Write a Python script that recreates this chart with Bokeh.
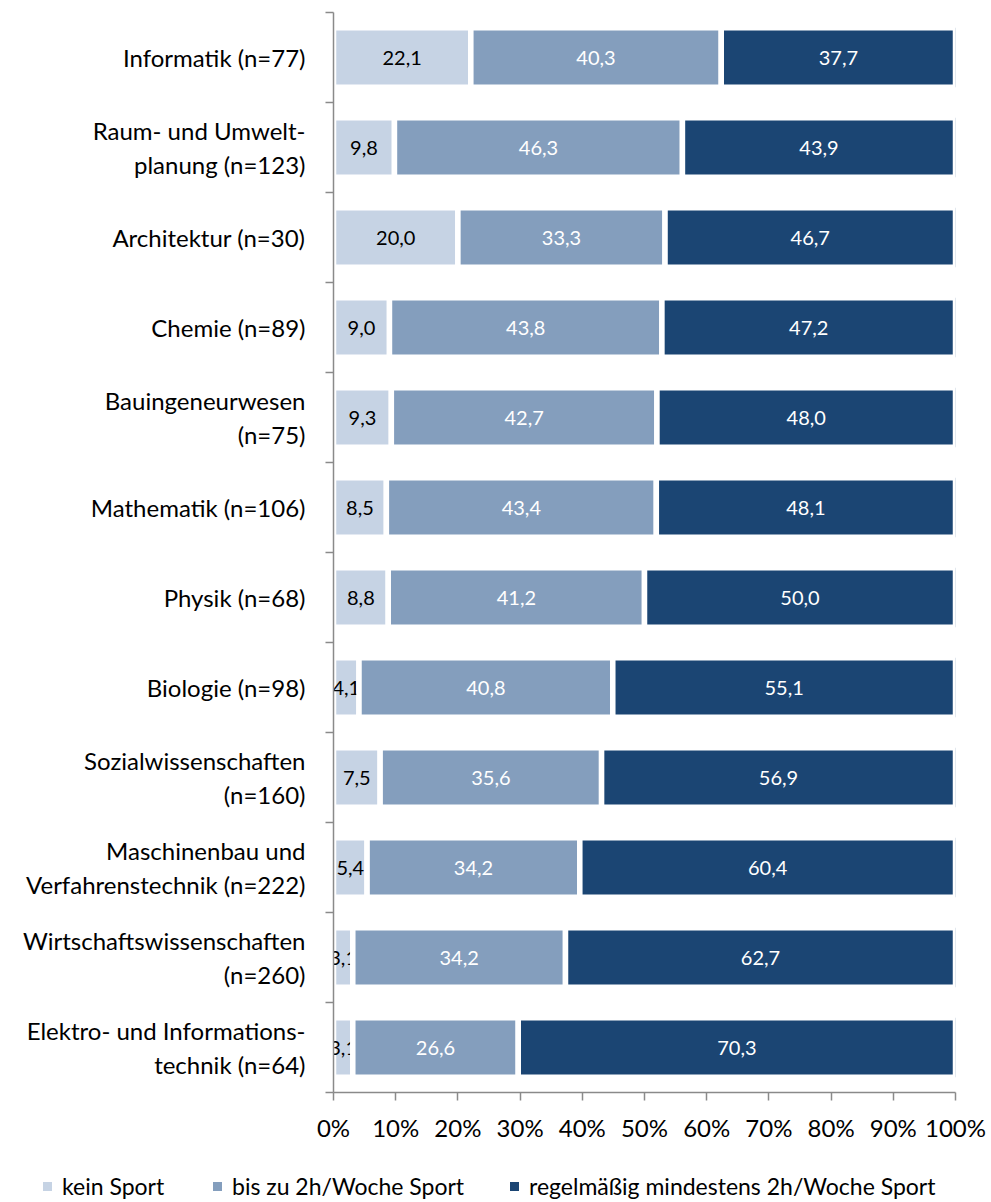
from bokeh.plotting import figure
from bokeh.layouts import column
from bokeh.models import Range1d, FixedTicker, LinearAxis, ColumnDataSource, Div
from bokeh.core.properties import value
from bokeh.embed import file_html
from bokeh.resources import INLINE

categories = [
    "Informatik (n=77)",
    "Raum- und Umwelt-\nplanung (n=123)",
    "Architektur (n=30)",
    "Chemie (n=89)",
    "Bauingeneurwesen\n(n=75)",
    "Mathematik (n=106)",
    "Physik (n=68)",
    "Biologie (n=98)",
    "Sozialwissenschaften\n(n=160)",
    "Maschinenbau und\nVerfahrenstechnik (n=222)",
    "Wirtschaftswissenschaften\n(n=260)",
    "Elektro- und Informations-\ntechnik (n=64)",
]
kein_sport = [22.1, 9.8, 20.0, 9.0, 9.3, 8.5, 8.8, 4.1, 7.5, 5.4, 3.1, 3.1]
bis_2h = [40.3, 46.3, 33.3, 43.8, 42.7, 43.4, 41.2, 40.8, 35.6, 34.2, 34.2, 26.6]
regelmaessig = [37.7, 43.9, 46.7, 47.2, 48.0, 48.1, 50.0, 55.1, 56.9, 60.4, 62.7, 70.3]
series_names = ["kein Sport", "bis zu 2h/Woche Sport", "regelmäßig mindestens 2h/Woche Sport"]
colors = ["#C6D3E4", "#849EBD", "#1B4573"]
label_colors = ["black", "white", "white"]
x_ticks = [0, 10, 20, 30, 40, 50, 60, 70, 80, 90, 100]
x_tick_labels = ["0%", "10%", "20%", "30%", "40%", "50%", "60%", "70%", "80%", "90%", "100%"]

FONT = "Lato"
AXIS_GREY = "#8a8a8a"
n = len(categories)
ypos = [n - 0.5 - i for i in range(n)]

p = figure(frame_width=622, frame_height=1080,
           min_border_left=333, min_border_right=36, min_border_top=12, min_border_bottom=60,
           x_range=Range1d(0, 100), y_range=Range1d(0, n),
           output_backend="svg", toolbar_location=None, y_axis_location=None)
p.outline_line_color = None
p.xgrid.visible = False
p.ygrid.visible = False
p.background_fill_color = "white"
p.border_fill_color = "white"

series = [kein_sport, bis_2h, regelmaessig]
totals = [sum(v) for v in zip(*series)]
left = [0.0] * n
for vals, c, tc in zip(series, colors, label_colors):
    norm = [v / t * 100 for v, t in zip(vals, totals)]
    right = [l + w for l, w in zip(left, norm)]
    src = ColumnDataSource(dict(
        y=ypos, left=left, right=right,
        mid=[(l + r) / 2 for l, r in zip(left, right)],
        lab=[f"{v:.1f}".replace(".", ",") for v in vals],
    ))
    p.hbar(y="y", left="left", right="right", height=0.66, source=src,
           fill_color=c, line_color="white", line_width=5.5)
    p.text(x="mid", y="y", text="lab", source=src, text_align="center",
           text_baseline="middle", text_color=tc, text_font=value(FONT),
           text_font_size="20px")
    left = right

# x axis
xa = p.xaxis[0]
xa.ticker = FixedTicker(ticks=x_ticks)
xa.major_label_overrides = {t: s for t, s in zip(x_ticks, x_tick_labels)}
xa.major_tick_out = 8
xa.major_tick_in = 0
xa.minor_tick_line_color = None
xa.axis_line_color = AXIS_GREY
xa.axis_line_width = 1.5
xa.major_tick_line_color = AXIS_GREY
xa.major_tick_line_width = 1.5
xa.major_label_text_font = FONT
xa.major_label_text_font_size = "24px"
xa.major_label_text_color = "black"
xa.major_label_standoff = 12

# y axis: labels at category centers, ticks at boundaries
ya = LinearAxis(ticker=FixedTicker(ticks=ypos, minor_ticks=list(range(n + 1))))
ya.major_label_overrides = {y: c for y, c in zip(ypos, categories)}
ya.major_tick_out = 0
ya.major_tick_in = 0
ya.minor_tick_out = 8
ya.minor_tick_in = 0
ya.minor_tick_line_color = AXIS_GREY
ya.minor_tick_line_width = 1.5
ya.axis_line_color = AXIS_GREY
ya.axis_line_width = 1.5
ya.major_label_text_font = FONT
ya.major_label_text_font_size = "24px"
ya.major_label_text_color = "black"
ya.major_label_standoff = 20
p.add_layout(ya, "left")

# legend row below the chart
item_widths = ["170px", "297px", "auto"]
legend_items = "".join(
    f'<div style="display:flex;align-items:center;width:{w};flex:none;white-space:nowrap;">'
    f'<span style="display:inline-block;width:9px;height:9px;background:{c};margin-right:10px;"></span>'
    f'<span>{name}</span></div>'
    for name, c, w in zip(series_names, colors, item_widths)
)
legend_html = (
    '<div style="display:flex;align-items:center;height:68px;padding-left:43px;'
    f'font-family:{FONT};font-size:23px;color:black;">' + legend_items + '</div>'
)
legend_div = Div(text=legend_html, width=991, height=50, margin=(0, 0, 0, 0))

layout = column(p, legend_div, spacing=0)
open("out.html", "w").write(file_html(layout, INLINE))
